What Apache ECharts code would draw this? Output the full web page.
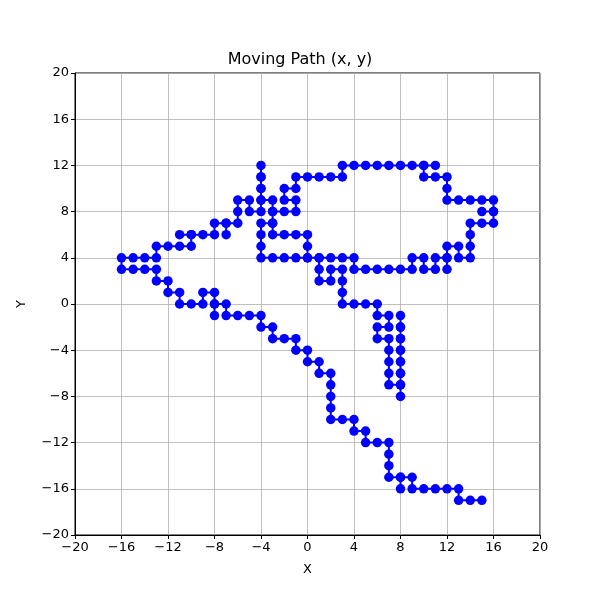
<!DOCTYPE html>
<html>
<head>
<meta charset="utf-8">
<script src="https://cdn.jsdelivr.net/npm/echarts@6/dist/echarts.min.js"></script>
<style>html,body{margin:0;padding:0;background:#fff}#c{width:600px;height:600px}</style>
</head>
<body>
<div id="c"></div>
<script>
var pathX = [15,14,13,13,12,11,10,9,9,8,8,8,7,7,7,7,6,5,5,4,4,3,2,2,2,2,2,1,1,0,0,-1,-1,-2,-3,-3,-4,-4,-5,-6,-7,-7,-8,-8,-8,-8,-9,-9,-10,-11,-11,-12,-12,-13,-13,-14,-15,-16,-16,-15,-14,-13,-13,-12,-11,-10,-10,-11,-10,-9,-8,-8,-7,-7,-7,-6,
  -6,-6,-5,-5,-4,-4,-4,-4,-4,-4,-4,-4,-3,-3,-3,-4,-4,-4,-4,-3,-2,-1,0,1,2,3,4,4,5,6,7,8,9,9,10,10,11,11,12,12,12,12,13,13,14,14,14,14,15,16,16,15,16,16,15,14,13,12,12,12,11,10,10,11,10,9,8,7,6,5,4,3,3,2,1,0,-1,-1,-2,-2,-1,-1,-2,-3,-3,-3,-2,-1,0,0,0,1,1,1,2,2,3,3,3,3,4,5,6,6,7,7,6,6,7,7,7,7,7,8,8,8,8,8,8,8,8,8,8,8,8,8,8];
var pathY = [-17,-17,-17,-16,-16,-16,-16,-16,-15,-15,-16,-15,-15,-14,-13,-12,-12,-12,-11,-11,-10,-10,-10,-9,-8,-7,-6,-6,-5,-5,-4,-4,-3,-3,-3,-2,-2,-1,-1,-1,-1,0,0,-1,0,1,1,0,0,0,1,1,2,2,3,3,3,3,4,4,4,4,5,5,5,5,6,6,6,6,6,7,7,6,7,7,
  8,9,9,8,8,9,10,11,12,11,10,9,9,8,7,7,6,5,4,4,4,4,4,4,4,4,4,3,3,3,3,3,3,4,4,3,3,4,4,3,4,5,5,4,4,5,6,7,7,7,8,8,8,9,9,9,9,9,10,11,11,11,12,12,12,12,12,12,12,12,12,12,11,11,11,11,11,10,10,9,9,8,8,8,7,6,6,6,6,5,4,4,3,2,2,3,3,2,1,0,0,0,0,-1,-1,-2,-2,-3,-3,-4,-5,-6,-7,-7,-6,-5,-4,-3,-2,-1,-2,-3,-4,-5,-6,-7,-8];
var axisMin = -20, axisMax = 20, tickStep = 4;

var data = pathX.map(function (x, i) { return [x, pathY[i]]; });
var font = 'DejaVu Sans';
function fmt(v) { return String(v).replace('-', '\u2212'); }
function axis(name, gap) {
  return {
    type: 'value', min: axisMin, max: axisMax, interval: tickStep,
    name: name, nameLocation: 'middle', nameGap: gap,
    nameTextStyle: { color: '#000', fontSize: 13, fontFamily: font },
    axisLine: { show: true, onZero: false, lineStyle: { color: '#000', width: 1 } },
    axisTick: { show: true, inside: false, length: 4, lineStyle: { color: '#000', width: 1 } },
    axisLabel: { color: '#000', fontSize: 13, fontFamily: font, margin: 6, formatter: fmt },
    splitLine: { show: true, lineStyle: { color: '#b0b0b0', width: 0.8 } }
  };
}
var chart = echarts.init(document.getElementById('c'), null, { renderer: 'canvas' });
chart.setOption({
  animation: false,
  backgroundColor: '#fff',
  title: { text: 'Moving Path (x, y)', left: 'center', top: 47,
    textStyle: { color: '#000', fontSize: 16, fontWeight: 'normal', fontFamily: font } },
  grid: { left: 75, top: 73, width: 465, height: 462, show: true, borderColor: '#000', borderWidth: 1, backgroundColor: 'transparent' },
  xAxis: axis('X', 28),
  yAxis: axis('Y', 47),
  series: [{
    type: 'line', data: data, symbol: 'circle', symbolSize: 9.5, showSymbol: true,
    lineStyle: { color: '#0000ff', width: 2 }, itemStyle: { color: '#0000ff' }
  }]
});
</script>
</body>
</html>
